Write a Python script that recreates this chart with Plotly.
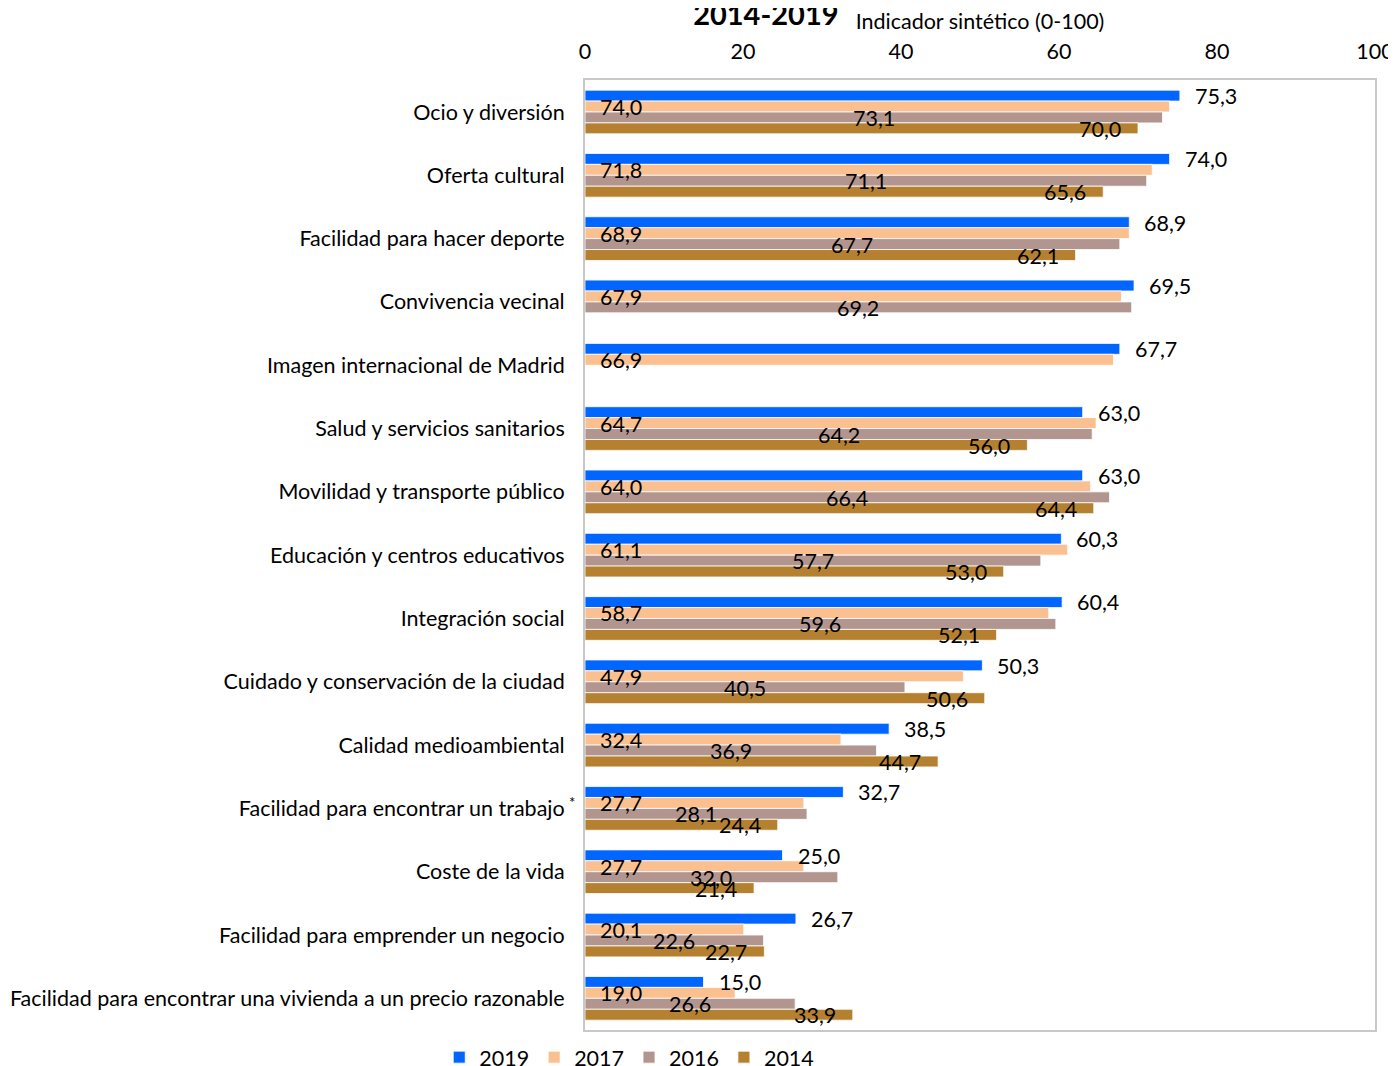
import plotly.graph_objects as go

categories = [
    "Ocio y diversión",
    "Oferta cultural",
    "Facilidad para hacer deporte",
    "Convivencia vecinal",
    "Imagen internacional de Madrid",
    "Salud y servicios sanitarios",
    "Movilidad y transporte público",
    "Educación y centros educativos",
    "Integración social",
    "Cuidado y conservación de la ciudad",
    "Calidad medioambiental",
    "Facilidad para encontrar un trabajo",
    "Coste de la vida",
    "Facilidad para emprender un negocio",
    "Facilidad para encontrar una vivienda a un precio razonable",
]

v2019 = [75.3, 74.0, 68.9, 69.5, 67.7, 63.0, 63.0, 60.3, 60.4, 50.3, 38.5, 32.7, 25.0, 26.7, 15.0]
v2017 = [74.0, 71.8, 68.9, 67.9, 66.9, 64.7, 64.0, 61.1, 58.7, 47.9, 32.4, 27.7, 27.7, 20.1, 19.0]
v2016 = [73.1, 71.1, 67.7, 69.2, None, 64.2, 66.4, 57.7, 59.6, 40.5, 36.9, 28.1, 32.0, 22.6, 26.6]
v2014 = [70.0, 65.6, 62.1, None, None, 56.0, 64.4, 53.0, 52.1, 50.6, 44.7, 24.4, 21.4, 22.7, 33.9]

series_names = ["2019", "2017", "2016", "2014"]
series_values = [v2019, v2017, v2016, v2014]
colors = ["#0066FF", "#FAC090", "#B1958E", "#B5802F"]

FONT = "Lato, Open Sans, sans-serif"
FS = 21.5

fig = go.Figure()
for name, vals, col in zip(series_names, series_values, colors):
    fig.add_trace(go.Bar(
        y=categories, x=vals, name=name, orientation="h",
        marker=dict(color=col, line=dict(color="white", width=0.8)),
        hoverinfo="x+name",
    ))


def fmt(v):
    return f"{v:.1f}".replace(".", ",")


annotations = []
shifts = [16.0, 5.0, -6.0, -17.0]
for si, vals in enumerate(series_values):
    for cat, v in zip(categories, vals):
        if v is None:
            continue
        if si == 0:
            x, xa, xs = v, "left", 13
        elif si == 1:
            x, xa, xs = 0, "left", 13
        elif si == 2:
            x, xa, xs = v / 2, "center", 0
        else:
            x, xa, xs = v, "right", -15
        annotations.append(dict(
            x=x, y=cat, xref="x", yref="y", text=fmt(v), showarrow=False,
            xanchor=xa, yanchor="middle", xshift=xs, yshift=shifts[si],
            font=dict(family=FONT, size=FS, color="black"),
        ))

# asterisk next to "trabajo"
annotations.append(dict(
    x=-0.0165, y="Facilidad para encontrar un trabajo", xref="paper", yref="y",
    text="*", showarrow=False, xanchor="center", yshift=6,
    font=dict(family=FONT, size=15, color="black"),
))

fig.update_layout(
    width=1388, height=1058,
    margin=dict(l=577, r=21, t=72, b=36, autoexpand=False),
    paper_bgcolor="white", plot_bgcolor="white",
    barmode="group", bargap=0.31, bargroupgap=0,
    separators=",.",
    font=dict(family=FONT, size=FS, color="black"),
    title=dict(text="<b>2014-2019</b>", x=0.546, xanchor="center",
               y=0.9935, yanchor="middle", font=dict(family=FONT, size=29, color="black")),
    xaxis=dict(
        side="top", range=[0, 100], dtick=20, showgrid=False, zeroline=False,
        showline=True, mirror=True, linecolor="#C8C8C8", linewidth=2,
        ticks="", ticklabelstandoff=10, tickfont=dict(size=FS, color="black"),
        automargin=False, ticklabeloverflow="allow",
        title=dict(text="Indicador sintético (0-100)", font=dict(size=FS, color="black"), standoff=4),
    ),
    yaxis=dict(
        autorange="reversed", showgrid=False, zeroline=False,
        showline=True, mirror=True, linecolor="#C8C8C8", linewidth=2,
        ticks="", ticklabelstandoff=14, tickfont=dict(size=FS, color="black"),
        automargin=False,
    ),
    legend=dict(orientation="h", x=0.056, xanchor="center", y=-0.007, yanchor="top",
                font=dict(size=FS, color="black"), traceorder="normal",
                itemwidth=30, tracegroupgap=0),
    annotations=annotations,
    showlegend=True,
)

fig.write_html("out.html")
